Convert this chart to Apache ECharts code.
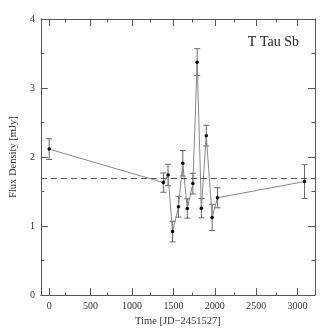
<!DOCTYPE html>
<html><head><meta charset="utf-8">
<script src="https://cdn.jsdelivr.net/npm/echarts@6/dist/echarts.min.js"></script>
<style>html,body{margin:0;padding:0;background:#fff}#c{width:332px;height:332px}</style>
</head><body><div id="c"></div>
<script>
const times = [0, 1379, 1435, 1490, 1561, 1613, 1668, 1735, 1787, 1838, 1897, 1968, 2032, 3083];
const flux = [2.115, 1.63, 1.74, 0.92, 1.28, 1.91, 1.255, 1.615, 3.375, 1.26, 2.31, 1.125, 1.41, 1.645];
const errors = [0.15, 0.14, 0.155, 0.15, 0.15, 0.185, 0.14, 0.15, 0.195, 0.14, 0.15, 0.19, 0.145, 0.245];
const meanFlux = 1.69;
const xMajorTicks = [0, 500, 1000, 1500, 2000, 2500, 3000];
const xMinorTicks = [250, 750, 1250, 1750, 2250, 2750];
const title = 'T Tau Sb';
const xName = 'Time [JD\u22122451527]';
const yName = 'Flux Density [mJy]';

const FONT = 'Liberation Serif';
const AX = '#555';
const TXT = '#333';
const gridPos = {left: 36, right: 17, top: 19, bottom: 36};

const pts = times.map((t, i) => [t, flux[i]]);
const errData = times.map((t, i) => [t, flux[i] - errors[i], flux[i] + errors[i]]);

function xAx(gridIndex, position, ticks, len, labels, line) {
  return {
    type: 'value', gridIndex, position, min: -100, max: 3210,
    axisLine: {show: line, onZero: false, lineStyle: {color: AX, width: 1}},
    axisTick: {show: true, inside: true, length: len, customValues: ticks, lineStyle: {color: AX}},
    axisLabel: labels ? {show: true, customValues: ticks, formatter: v => String(v), color: TXT, fontFamily: FONT, fontSize: 10, margin: 6} : {show: false},
    splitLine: {show: false},
    name: labels ? xName : '', nameLocation: 'middle', nameGap: 18,
    nameTextStyle: {color: TXT, fontFamily: FONT, fontSize: 10.5}
  };
}
function yAx(gridIndex, position, labels, show) {
  return {
    type: 'value', gridIndex, position, min: 0, max: 4, interval: 1, show,
    axisLine: {show: true, onZero: false, lineStyle: {color: AX, width: 1}},
    axisTick: {show: true, inside: true, length: 7, lineStyle: {color: AX}},
    minorTick: {show: true, splitNumber: 2, length: 3.5, lineStyle: {color: AX}},
    axisLabel: labels ? {show: true, formatter: v => String(v), color: TXT, fontFamily: FONT, fontSize: 10, margin: 6} : {show: false},
    splitLine: {show: false},
    name: labels ? yName : '', nameLocation: 'middle', nameGap: 20, nameRotate: 90,
    nameTextStyle: {color: TXT, fontFamily: FONT, fontSize: 10.5}
  };
}

const chart = echarts.init(document.getElementById('c'), null, {renderer: 'canvas'});
chart.setOption({
  animation: false,
  backgroundColor: '#fff',
  title: {text: title, right: 28, top: 30, textStyle: {fontFamily: FONT, fontSize: 14, fontWeight: 'normal', color: '#222'}},
  grid: [Object.assign({}, gridPos), Object.assign({}, gridPos)],
  xAxis: [
    xAx(0, 'bottom', xMajorTicks, 7, true, true),
    xAx(0, 'top', xMajorTicks, 7, false, true),
    xAx(1, 'bottom', xMinorTicks, 3.5, false, false),
    xAx(1, 'top', xMinorTicks, 3.5, false, false)
  ],
  yAxis: [
    yAx(0, 'left', true, true),
    yAx(0, 'right', false, true),
    yAx(1, 'left', false, false)
  ],
  series: [
    {
      type: 'line', xAxisIndex: 0, yAxisIndex: 0, data: pts,
      symbol: 'circle', symbolSize: 3.5,
      itemStyle: {color: '#000'},
      lineStyle: {color: '#888', width: 1},
      markLine: {
        silent: true, symbol: 'none', label: {show: false},
        lineStyle: {color: '#555', type: [6, 4], width: 1},
        data: [{yAxis: meanFlux}]
      },
      z: 3
    },
    {
      type: 'custom', xAxisIndex: 0, yAxisIndex: 0, data: errData,
      renderItem: function (params, api) {
        const x = api.value(0);
        const lo = api.coord([x, api.value(1)]);
        const hi = api.coord([x, api.value(2)]);
        const w = 3;
        const st = {stroke: '#666', lineWidth: 1};
        return {type: 'group', children: [
          {type: 'line', shape: {x1: lo[0], y1: lo[1], x2: hi[0], y2: hi[1]}, style: st},
          {type: 'line', shape: {x1: lo[0] - w, y1: lo[1], x2: lo[0] + w, y2: lo[1]}, style: st},
          {type: 'line', shape: {x1: hi[0] - w, y1: hi[1], x2: hi[0] + w, y2: hi[1]}, style: st}
        ]};
      },
      z: 2
    }
  ]
});
</script></body></html>
